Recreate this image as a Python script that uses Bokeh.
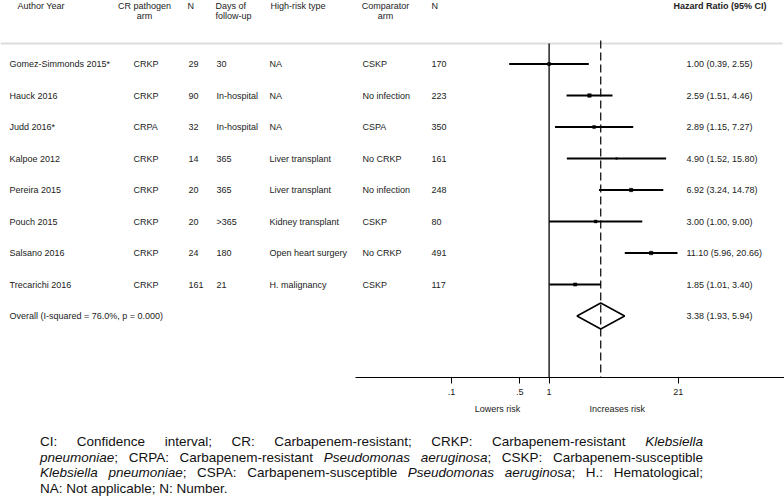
import math
from bokeh.plotting import figure
from bokeh.models import (Range1d, LinearScale, LogScale, LogAxis, FixedTicker,
                          ColumnDataSource, Div)
from bokeh.layouts import column
from bokeh.core.properties import value
from bokeh.embed import file_html
from bokeh.resources import INLINE

# ---------------- data ----------------
authors = ["Gomez-Simmonds 2015*", "Hauck 2016", "Judd 2016*", "Kalpoe 2012",
           "Pereira 2015", "Pouch 2015", "Salsano 2016", "Trecarichi 2016"]
pathogen = ["CRKP", "CRKP", "CRPA", "CRKP", "CRKP", "CRKP", "CRKP", "CRKP"]
n_cr = [29, 90, 32, 14, 20, 20, 24, 161]
followup = ["30", "In-hospital", "In-hospital", "365", "365", ">365", "180", "21"]
risk_type = ["NA", "NA", "NA", "Liver transplant", "Liver transplant",
             "Kidney transplant", "Open heart surgery", "H. malignancy"]
comparator = ["CSKP", "No infection", "CSPA", "No CRKP", "No infection",
              "CSKP", "No CRKP", "CSKP"]
n_comp = [170, 223, 350, 161, 248, 80, 491, 117]
hr = [1.00, 2.59, 2.89, 4.90, 6.92, 3.00, 11.10, 1.85]
hr_lo = [0.39, 1.51, 1.15, 1.52, 3.24, 1.00, 5.96, 1.01]
hr_hi = [2.55, 4.46, 7.27, 15.80, 14.78, 9.00, 20.66, 3.40]
weights = [11.0, 15.5, 10.0, 3.5, 14.0, 9.5, 14.5, 13.0]   # study weights (%), estimated

overall_label = "Overall  (I-squared = 76.0%, p = 0.000)"
overall_hr, overall_lo, overall_hi = 3.38, 1.93, 5.94

tick_values = [0.1, 0.5, 1.0, 21.0]
tick_labels = [".1", ".5", "1", "21"]
side_labels = ["Lowers risk", "Increases risk"]
side_positions = [0.296, 4.98]

header_cols = ["Author Year", "CR pathogen\narm", "N", "Days of\nfollow-up",
               "High-risk type", "Comparator\narm", "N", "Hazard Ratio (95% CI)"]

footnote_lines = [
    'CI: Confidence interval; CR: Carbapenem-resistant; CRKP: Carbapenem-resistant <i>Klebsiella</i>',
    '<i>pneumoniae</i>; CRPA: Carbapenem-resistant <i>Pseudomonas aeruginosa</i>; CSKP: Carbapenem-susceptible',
    '<i>Klebsiella pneumoniae</i>; CSPA: Carbapenem-susceptible <i>Pseudomonas aeruginosa</i>; H.: Hematological;',
    'NA: Not applicable; N: Number.',
]

# ---------------- layout constants ----------------
W = 784
FRAME_H = 377
FIG_H = 434
FOOT_H = 63
ROW_PX = 31.5
FIRST_ROW_PX = 63.5
ORIGIN_PX = 548.6      # pixel of HR = 1
PX_PER_LN = 42.4

def ry(px):
    return (px - FIRST_ROW_PX) / ROW_PX

x_start = math.exp(-ORIGIN_PX / PX_PER_LN)
x_end = math.exp((W - ORIGIN_PX) / PX_PER_LN)

FONT = "Liberation Sans"
TXT = "#222222"

p = figure(width=W, height=FIG_H, output_backend="svg", toolbar_location=None,
           x_axis_type="log", x_axis_location=None, y_axis_location=None,
           x_range=Range1d(x_start, x_end),
           y_range=Range1d(ry(FRAME_H), ry(0)),
           min_border_left=0, min_border_right=0, min_border_top=0,
           min_border_bottom=FIG_H - FRAME_H)
p.x_scale = LogScale()
p.extra_x_ranges = {"tbl": Range1d(0, W)}
p.extra_x_scales = {"tbl": LinearScale()}
p.outline_line_color = None
p.background_fill_color = "white"
p.border_fill_color = "white"
for g in p.grid:
    g.visible = False

n = len(authors)
rows = list(range(n))

src = ColumnDataSource(dict(
    y=rows, author=authors, pathogen=pathogen, n_cr=[str(v) for v in n_cr],
    followup=followup, risk=risk_type, comp=comparator,
    n_comp=[str(v) for v in n_comp],
    hrtxt=["%.2f (%.2f, %.2f)" % (a, b, c) for a, b, c in zip(hr, hr_lo, hr_hi)],
    hr=hr, lo=hr_lo, hi=hr_hi,
    size=[0.9 * math.sqrt(w) for w in weights],
))

col_x = {"author": 9, "pathogen": 133, "n_cr": 188, "followup": 216,
         "risk": 269, "comp": 362, "n_comp": 431, "hrtxt": 686}
for field, xpx in col_x.items():
    p.text(x=xpx, y="y", text=field, source=src, x_range_name="tbl",
           text_font=value(FONT), text_font_size="9px", text_color=TXT,
           text_baseline="middle", text_align="left")

# overall row
ov = n
p.text(x=[col_x["author"]], y=[ov], text=[overall_label], x_range_name="tbl",
       text_font=value(FONT), text_font_size="9px", text_color=TXT,
       text_baseline="middle", text_align="left")
p.text(x=[col_x["hrtxt"]], y=[ov],
       text=["%.2f (%.2f, %.2f)" % (overall_hr, overall_lo, overall_hi)],
       x_range_name="tbl", text_font=value(FONT), text_font_size="9px",
       text_color=TXT, text_baseline="middle", text_align="left")

# headers
hdr_pos = [(17, "left"), (144, "center"), (187, "left"), (215, "left"),
           (270, "left"), (385, "center"), (431, "left"), (673, "left")]
for label, (xpx, al) in zip(header_cols, hdr_pos):
    parts = label.split("\n")
    for k, part in enumerate(parts):
        bold = label.startswith("Hazard")
        p.text(x=[xpx], y=[ry(5.5 + 10 * k)], text=[part], x_range_name="tbl",
               text_font=value(FONT), text_font_size="9px", text_color=TXT,
               text_font_style="bold" if bold else "normal",
               text_baseline="middle", text_align=al)

# header rule
p.segment(x0=[0], x1=[W - 2], y0=[ry(43)], y1=[ry(43)], x_range_name="tbl",
          line_color="#dcdcdc", line_width=2)

# null line and overall line
p.segment(x0=[1], x1=[1], y0=[ry(43)], y1=[ry(FRAME_H)], line_color="black",
          line_width=1.3)
p.segment(x0=[overall_hr], x1=[overall_hr], y0=[ry(40)], y1=[ry(FRAME_H)],
          line_color="black", line_width=1.2, line_dash="8 4")

# confidence intervals and boxes
p.segment(x0="lo", x1="hi", y0="y", y1="y", source=src, line_color="black",
          line_width=2)
p.scatter(x="hr", y="y", size="size", marker="square", source=src,
          fill_color="black", line_color="black", line_width=0.5)

# overall diamond
dh = 13 / ROW_PX
p.patch(x=[overall_lo, overall_hr, overall_hi, overall_hr],
        y=[ov, ov - dh, ov, ov + dh], fill_color=None, line_color="black",
        line_width=1.5)

# axes
ax = LogAxis(ticker=FixedTicker(ticks=tick_values),
             major_label_overrides=dict(zip(tick_values, tick_labels)))
ax.bounds = (0.0104, x_end)
ax.axis_line_color = "black"
ax.axis_line_width = 1
ax.major_tick_line_color = "black"
ax.major_tick_in = 0
ax.major_tick_out = 6
ax.minor_tick_line_color = None
ax.major_label_standoff = 5
ax.major_label_text_font = FONT
ax.major_label_text_font_size = "9px"
ax.major_label_text_color = TXT
p.add_layout(ax, "below")

ax2 = LogAxis(ticker=FixedTicker(ticks=side_positions),
              major_label_overrides=dict(zip(side_positions, side_labels)))
ax2.axis_line_color = None
ax2.major_tick_line_color = None
ax2.minor_tick_line_color = None
ax2.major_tick_in = 0
ax2.major_tick_out = 0
ax2.major_label_standoff = 6
ax2.major_label_text_font = FONT
ax2.major_label_text_font_size = "9px"
ax2.major_label_text_color = TXT
p.add_layout(ax2, "below")

# footnote
html_lines = []
for i, ln in enumerate(footnote_lines):
    last = i == len(footnote_lines) - 1
    align = "left" if last else "justify"
    html_lines.append(
        '<div style="text-align:%s;text-align-last:%s;">%s</div>' % (align, align, ln))
footer_html = ('<div style="margin-left:40px;width:663px;font-family:\'Liberation Sans\',Arial,sans-serif;'
               'font-size:13.5px;line-height:15.6px;color:#111;">' + "".join(html_lines) + '</div>')
foot = Div(text=footer_html, width=W, height=FOOT_H, margin=(0, 0, 0, 0))

layout = column(p, foot, spacing=0)
open("out.html", "w").write(file_html(layout, INLINE))
